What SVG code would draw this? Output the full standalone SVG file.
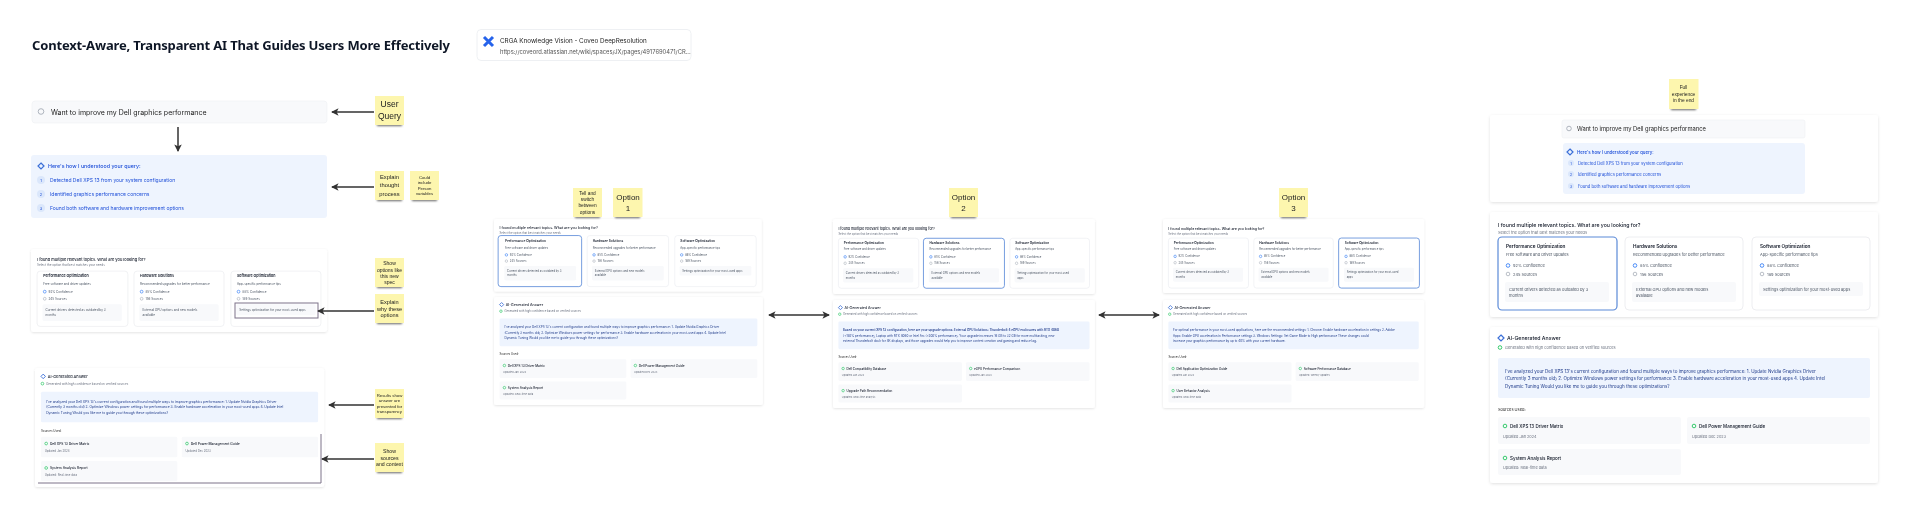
<svg xmlns="http://www.w3.org/2000/svg" width="1920" height="528" viewBox="0 0 1920 528">
<style>
text{font-family:Inter,"Noto Sans","Liberation Sans",sans-serif;fill:#1f2937}
.title{font-family:"Noto Sans","Liberation Sans",sans-serif;font-weight:700;font-size:13px;fill:#111827}
.panel{fill:#fff;filter:url(#ps)}
.card{fill:#fff;stroke:#e8eaee;stroke-width:.8}
.sel{fill:#fff;stroke:#5b8ad8;stroke-width:1.2}
.box{fill:#f8f9fb}
.blue{fill:#eef4fe}
.h{font-size:5.2px;font-weight:500;fill:#111827}
.s{font-size:4px;fill:#6b7280}
.t{font-size:4.7px;font-weight:600;fill:#111827}
.d{font-size:4px;fill:#4b5563}
.m{font-size:4px;fill:#4b5563}
.n{font-size:4px;fill:#4b5563}
.b{font-size:4.5px;fill:#1e3a8a}
.st{font-size:4.5px;font-weight:500;fill:#111827}
.ss{font-size:3.8px;fill:#6b7280}
.q{fill:#1d4ed8}
.conf{fill:none;stroke:#3b82f6;stroke-width:.9}
.src{fill:none;stroke:#9ca3af;stroke-width:.7}
.chk{fill:none;stroke:#22c55e;stroke-width:.9}
.star{fill:none;stroke:#3b6fd8;stroke-width:1.2}
.sticky{fill:#fdf6ae}
.shade{fill:#666;filter:url(#bl)}
.sn{text-anchor:middle;fill:#222;font-family:"Liberation Sans",sans-serif}
.conn{fill:none;stroke:#333;stroke-width:1.5}
.mark{fill:none;stroke:#7d7389;stroke-width:1}
.sb{fill:#f8f9fb;stroke:#eef0f3;stroke-width:.6}
.num{fill:#dbe7fb}
</style>
<defs>
<filter id="ps" x="-5%" y="-5%" width="110%" height="112%"><feDropShadow dx="0" dy="1" stdDeviation="1.6" flood-color="#000" flood-opacity=".12"/></filter>
<filter id="bl" x="-20%" y="-200%" width="140%" height="500%"><feGaussianBlur stdDeviation="1"/></filter>
<filter id="soft" filterUnits="userSpaceOnUse" x="0" y="0" width="1920" height="528"><feGaussianBlur stdDeviation=".4"/></filter>
<marker id="ah" viewBox="0 0 8 8" refX="7" refY="4" markerWidth="5" markerHeight="5" orient="auto-start-reverse"><path d="M0 0L8 4L0 8L2 4Z" fill="#333"/></marker>
</defs>
<rect width="1920" height="528" fill="#fff"/>
<g filter="url(#soft)">
<text class="title" x="32" y="50" textLength="418">Context-Aware, Transparent AI That Guides Users More Effectively</text>

<g id="link-card">
<rect x="477" y="29.500" width="214" height="31" rx="4" fill="#fff" stroke="#eef0f3"/>
<path d="M484 37L493 46M493 37L484 46" stroke="#2563eb" stroke-width="3" fill="none"/>
<text x="500" y="43" style="font-size:6.300px;fill:#222">CRGA Knowledge Vision - Coveo DeepResolution</text>
<text x="500" y="53.500" style="font-size:5.800px;fill:#555">https://coveord.atlassian.net/wiki/spaces/JX/pages/4917690471/CR...</text>
</g>

<g id="search-query">
<rect x="32" y="101" width="295" height="22" rx="3" class="sb"/>
<circle cx="41" cy="111.500" r="2.800" fill="none" stroke="#9ca3af" stroke-width=".8"/>
<text x="51" y="114.500" style="font-size:7px;fill:#222">Want to improve my Dell graphics performance</text>
</g>

<g id="thought-process">
<rect x="31" y="155" width="296" height="63" rx="3" class="blue"/>
<path d="M41 163L44 166L41 169L38 166Z" class="star"/>
<text x="48" y="168" class="q" style="font-size:5.300px;font-weight:500">Here's how I understood your query:</text>
<circle cx="41" cy="180" r="4" class="num"/><circle cx="41" cy="194" r="4" class="num"/><circle cx="41" cy="208" r="4" class="num"/>
<text x="41" y="182" class="q" text-anchor="middle" style="font-size:4px">1</text><text x="41" y="196" class="q" text-anchor="middle" style="font-size:4px">2</text><text x="41" y="210" class="q" text-anchor="middle" style="font-size:4px">3</text>
<text x="50" y="182" class="q" style="font-size:5px">Detected Dell XPS 13 from your system configuration</text>
<text x="50" y="196" class="q" style="font-size:5px">Identified graphics performance concerns</text>
<text x="50" y="210" class="q" style="font-size:5px">Found both software and hardware improvement options</text>
</g>

<g id="options-base" transform="translate(31 249) scale(.763 .79)">
<rect width="388" height="105" rx="3" class="panel"/>
<text x="8" y="15" class="h">I found multiple relevant topics. What are you looking for?</text><text x="8" y="22" class="s">Select the option that best matches your needs</text>
<rect x="8" y="28" width="119" height="70" rx="4" class="card"/><rect x="135" y="28" width="118" height="70" rx="4" class="card"/><rect x="262" y="28" width="118" height="70" rx="4" class="card"/>
<text x="16" y="36" class="t">Performance Optimization</text><text x="16" y="45" class="d">Free software and driver updates</text><circle cx="18" cy="54" r="1.800" class="conf"/><text x="23" y="55.500" class="m">92% Confidence</text><circle cx="18" cy="63" r="1.800" class="src"/><text x="23" y="64.500" class="m">245 Sources</text><rect x="15" y="70" width="104" height="21" rx="2" class="box"/><text x="19" y="78.500" class="n">Current drivers detected as outdated by 3</text><text x="19" y="85" class="n">months</text>
<text x="143" y="36" class="t">Hardware Solutions</text><text x="143" y="45" class="d">Recommended upgrades for better performance</text><circle cx="145" cy="54" r="1.800" class="conf"/><text x="150" y="55.500" class="m">85% Confidence</text><circle cx="145" cy="63" r="1.800" class="src"/><text x="150" y="64.500" class="m">156 Sources</text><rect x="142" y="70" width="104" height="21" rx="2" class="box"/><text x="146" y="78.500" class="n">External GPU options and new models</text><text x="146" y="85" class="n">available</text>
<text x="270" y="36" class="t">Software Optimization</text><text x="270" y="45" class="d">App-specific performance tips</text><circle cx="272" cy="54" r="1.800" class="conf"/><text x="277" y="55.500" class="m">88% Confidence</text><circle cx="272" cy="63" r="1.800" class="src"/><text x="277" y="64.500" class="m">189 Sources</text><rect x="269" y="70" width="104" height="14" rx="2" class="box"/><text x="273" y="78.500" class="n">Settings optimization for your most-used apps</text>
</g>
<rect x="235" y="303" width="83" height="15" class="mark"/>

<g id="answer-base" transform="translate(35 368) scale(.745 .763)">
<rect width="388" height="156" rx="3" class="panel"/>
<path d="M11 8L14 11L11 14L8 11Z" class="star"/><text x="17" y="12.500" class="h">AI-Generated Answer</text><circle cx="10" cy="20.500" r="1.800" class="chk"/><text x="15" y="22" class="s">Generated with high confidence based on verified sources</text>
<rect x="8" y="31" width="372" height="40" rx="2" class="blue"/>
<text x="15" y="45.500" class="b">I've analyzed your Dell XPS 13's current configuration and found multiple ways to improve graphics performance: 1. Update Nvidia Graphics Driver</text>
<text x="15" y="53" class="b">(Currently 3 months old) 2. Optimize Windows power settings for performance 3. Enable hardware acceleration in your most-used apps 4. Update Intel</text>
<text x="15" y="60.500" class="b">Dynamic Tuning Would you like me to guide you through these optimizations?</text>
<text x="8" y="84" class="s" style="fill:#222">Sources Used:</text>
<rect x="8" y="90" width="183" height="27" rx="2" class="box"/><rect x="197" y="90" width="183" height="27" rx="2" class="box"/><rect x="8" y="122" width="183" height="26" rx="2" class="box"/>
<circle cx="15" cy="99" r="1.800" class="chk"/><text x="20" y="100.500" class="st">Dell XPS 13 Driver Matrix</text><text x="13" y="110.500" class="ss">Updated Jan 2024</text>
<circle cx="204" cy="99" r="1.800" class="chk"/><text x="209" y="100.500" class="st">Dell Power Management Guide</text><text x="202" y="110.500" class="ss">Updated Dec 2023</text>
<circle cx="15" cy="131" r="1.800" class="chk"/><text x="20" y="132.500" class="st">System Analysis Report</text><text x="13" y="141.500" class="ss">Updated: Real-time data</text>
</g>
<path d="M321 434V483H38" class="mark"/>

<g id="options-1" transform="translate(494 219) scale(.69 .69)">
<rect width="388" height="105" rx="3" class="panel"/>
<text x="8" y="15" class="h">I found multiple relevant topics. What are you looking for?</text><text x="8" y="22" class="s">Select the option that best matches your needs</text>
<rect x="6" y="24" width="121" height="74" rx="4" class="sel"/><rect x="135" y="24" width="118" height="74" rx="4" class="card"/><rect x="262" y="24" width="118" height="74" rx="4" class="card"/>
<text x="16" y="34" class="t">Performance Optimization</text><text x="16" y="43" class="d">Free software and driver updates</text><circle cx="18" cy="52" r="1.800" class="conf"/><text x="23" y="53.500" class="m">92% Confidence</text><circle cx="18" cy="61" r="1.800" class="src"/><text x="23" y="62.500" class="m">245 Sources</text><rect x="15" y="68" width="104" height="21" rx="2" class="box"/><text x="19" y="76.500" class="n">Current drivers detected as outdated by 3</text><text x="19" y="83" class="n">months</text>
<text x="143" y="34" class="t">Hardware Solutions</text><text x="143" y="43" class="d">Recommended upgrades for better performance</text><circle cx="145" cy="52" r="1.800" class="conf"/><text x="150" y="53.500" class="m">85% Confidence</text><circle cx="145" cy="61" r="1.800" class="src"/><text x="150" y="62.500" class="m">156 Sources</text><rect x="142" y="68" width="104" height="21" rx="2" class="box"/><text x="146" y="76.500" class="n">External GPU options and new models</text><text x="146" y="83" class="n">available</text>
<text x="270" y="34" class="t">Software Optimization</text><text x="270" y="43" class="d">App-specific performance tips</text><circle cx="272" cy="52" r="1.800" class="conf"/><text x="277" y="53.500" class="m">88% Confidence</text><circle cx="272" cy="61" r="1.800" class="src"/><text x="277" y="62.500" class="m">189 Sources</text><rect x="269" y="68" width="104" height="14" rx="2" class="box"/><text x="273" y="76.500" class="n">Settings optimization for your most-used apps</text>
</g>

<g id="answer-1" transform="translate(494 297) scale(.693 .692)">
<rect width="388" height="156" rx="3" class="panel"/>
<path d="M11 8L14 11L11 14L8 11Z" class="star"/><text x="17" y="12.500" class="h">AI-Generated Answer</text><circle cx="10" cy="20.500" r="1.800" class="chk"/><text x="15" y="22" class="s">Generated with high confidence based on verified sources</text>
<rect x="8" y="31" width="372" height="40" rx="2" class="blue"/>
<text x="15" y="45.500" class="b">I've analyzed your Dell XPS 13's current configuration and found multiple ways to improve graphics performance: 1. Update Nvidia Graphics Driver</text>
<text x="15" y="53" class="b">(Currently 3 months old) 2. Optimize Windows power settings for performance 3. Enable hardware acceleration in your most-used apps 4. Update Intel</text>
<text x="15" y="60.500" class="b">Dynamic Tuning Would you like me to guide you through these optimizations?</text>
<text x="8" y="84" class="s" style="fill:#222">Sources Used:</text>
<rect x="8" y="90" width="183" height="27" rx="2" class="box"/><rect x="197" y="90" width="183" height="27" rx="2" class="box"/><rect x="8" y="122" width="183" height="26" rx="2" class="box"/>
<circle cx="15" cy="99" r="1.800" class="chk"/><text x="20" y="100.500" class="st">Dell XPS 13 Driver Matrix</text><text x="13" y="110.500" class="ss">Updated Jan 2024</text>
<circle cx="204" cy="99" r="1.800" class="chk"/><text x="209" y="100.500" class="st">Dell Power Management Guide</text><text x="202" y="110.500" class="ss">Updated Dec 2023</text>
<circle cx="15" cy="131" r="1.800" class="chk"/><text x="20" y="132.500" class="st">System Analysis Report</text><text x="13" y="141.500" class="ss">Updated: Real-time data</text>
</g>

<g id="options-2" transform="translate(833 219) scale(.675 .714)">
<rect width="388" height="105" rx="3" class="panel"/>
<text x="8" y="15" class="h">I found multiple relevant topics. What are you looking for?</text><text x="8" y="22" class="s">Select the option that best matches your needs</text>
<rect x="8" y="27" width="119" height="70" rx="4" class="card"/><rect x="134" y="27" width="120" height="70" rx="4" class="sel"/><rect x="262" y="27" width="118" height="70" rx="4" class="card"/>
<text x="16" y="35" class="t">Performance Optimization</text><text x="16" y="44" class="d">Free software and driver updates</text><circle cx="18" cy="53" r="1.800" class="conf"/><text x="23" y="54.500" class="m">92% Confidence</text><circle cx="18" cy="62" r="1.800" class="src"/><text x="23" y="63.500" class="m">245 Sources</text><rect x="15" y="69" width="104" height="20" rx="2" class="box"/><text x="19" y="76.500" class="n">Current drivers detected as outdated by 3</text><text x="19" y="84" class="n">months</text>
<text x="143" y="35" class="t">Hardware Solutions</text><text x="143" y="44" class="d">Recommended upgrades for better performance</text><circle cx="145" cy="53" r="1.800" class="conf"/><text x="150" y="54.500" class="m">85% Confidence</text><circle cx="145" cy="62" r="1.800" class="src"/><text x="150" y="63.500" class="m">156 Sources</text><rect x="142" y="69" width="104" height="20" rx="2" class="box"/><text x="146" y="76.500" class="n">External GPU options and new models</text><text x="146" y="84" class="n">available</text>
<text x="270" y="35" class="t">Software Optimization</text><text x="270" y="44" class="d">App-specific performance tips</text><circle cx="272" cy="53" r="1.800" class="conf"/><text x="277" y="54.500" class="m">88% Confidence</text><circle cx="272" cy="62" r="1.800" class="src"/><text x="277" y="63.500" class="m">189 Sources</text><rect x="269" y="69" width="104" height="20" rx="2" class="box"/><text x="273" y="76.500" class="n">Settings optimization for your most-used</text><text x="273" y="84" class="n">apps</text>
</g>

<g id="answer-2" transform="translate(833 300) scale(.675 .692)">
<rect width="388" height="156" rx="3" class="panel"/>
<path d="M11 8L14 11L11 14L8 11Z" class="star"/><text x="17" y="12.500" class="h">AI-Generated Answer</text><circle cx="10" cy="20.500" r="1.800" class="chk"/><text x="15" y="22" class="s">Generated with high confidence based on verified sources</text>
<rect x="8" y="31" width="372" height="40" rx="2" class="blue"/>
<text x="15" y="45.500" class="b" style="font-weight:600">Based on your current XPS 13 configuration, here are your upgrade options: External GPU Solutions: Thunderbolt 4 eGPU enclosures with RTX 4060</text>
<text x="15" y="53" class="b">(+150% performance), Laptop with RTX 4060 or Intel Arc (+200% performance). Your upgrade increases 16 GB to 32 GB for more multitasking, new</text>
<text x="15" y="60.500" class="b">external Thunderbolt dock for 4K displays, and those upgrades would help you to improve content creation and gaming and reduce lag.</text>
<text x="8" y="84" class="s" style="fill:#222">Sources Used:</text>
<rect x="8" y="90" width="183" height="27" rx="2" class="box"/><rect x="197" y="90" width="183" height="27" rx="2" class="box"/><rect x="8" y="122" width="183" height="26" rx="2" class="box"/>
<circle cx="15" cy="99" r="1.800" class="chk"/><text x="20" y="100.500" class="st">Dell Compatibility Database</text><text x="13" y="110.500" class="ss">Updated Jan 2024</text>
<circle cx="204" cy="99" r="1.800" class="chk"/><text x="209" y="100.500" class="st">eGPU Performance Comparison</text><text x="202" y="110.500" class="ss">Updated Jan 2024</text>
<circle cx="15" cy="131" r="1.800" class="chk"/><text x="20" y="132.500" class="st">Upgrade Path Recommendation</text><text x="13" y="141.500" class="ss">Updated: Real-time analysis</text>
</g>

<g id="options-3" transform="translate(1163 219) scale(.673 .705)">
<rect width="388" height="105" rx="3" class="panel"/>
<text x="8" y="15" class="h">I found multiple relevant topics. What are you looking for?</text><text x="8" y="22" class="s">Select the option that best matches your needs</text>
<rect x="8" y="27" width="119" height="71" rx="4" class="card"/><rect x="135" y="27" width="118" height="71" rx="4" class="card"/><rect x="261" y="27" width="120" height="71" rx="4" class="sel"/>
<text x="16" y="35" class="t">Performance Optimization</text><text x="16" y="44" class="d">Free software and driver updates</text><circle cx="18" cy="53" r="1.800" class="conf"/><text x="23" y="54.500" class="m">92% Confidence</text><circle cx="18" cy="62" r="1.800" class="src"/><text x="23" y="63.500" class="m">245 Sources</text><rect x="15" y="69" width="104" height="20" rx="2" class="box"/><text x="19" y="76.500" class="n">Current drivers detected as outdated by 3</text><text x="19" y="84" class="n">months</text>
<text x="143" y="35" class="t">Hardware Solutions</text><text x="143" y="44" class="d">Recommended upgrades for better performance</text><circle cx="145" cy="53" r="1.800" class="conf"/><text x="150" y="54.500" class="m">85% Confidence</text><circle cx="145" cy="62" r="1.800" class="src"/><text x="150" y="63.500" class="m">156 Sources</text><rect x="142" y="69" width="104" height="20" rx="2" class="box"/><text x="146" y="76.500" class="n">External GPU options and new models</text><text x="146" y="84" class="n">available</text>
<text x="270" y="35" class="t">Software Optimization</text><text x="270" y="44" class="d">App-specific performance tips</text><circle cx="272" cy="53" r="1.800" class="conf"/><text x="277" y="54.500" class="m">88% Confidence</text><circle cx="272" cy="62" r="1.800" class="src"/><text x="277" y="63.500" class="m">189 Sources</text><rect x="269" y="69" width="104" height="20" rx="2" class="box"/><text x="273" y="76.500" class="n">Settings optimization for your most-used</text><text x="273" y="84" class="n">apps</text>
</g>

<g id="answer-3" transform="translate(1163 300) scale(.673 .692)">
<rect width="388" height="156" rx="3" class="panel"/>
<path d="M11 8L14 11L11 14L8 11Z" class="star"/><text x="17" y="12.500" class="h">AI-Generated Answer</text><circle cx="10" cy="20.500" r="1.800" class="chk"/><text x="15" y="22" class="s">Generated with high confidence based on verified sources</text>
<rect x="8" y="31" width="372" height="40" rx="2" class="blue"/>
<text x="15" y="45.500" class="b">For optimal performance in your most-used applications, here are the recommended settings: 1. Chrome: Enable hardware acceleration in settings 2. Adobe</text>
<text x="15" y="53" class="b">Apps: Enable GPU acceleration in Performance settings 3. Windows Settings: Set Game Mode to High performance These changes could</text>
<text x="15" y="60.500" class="b">increase your graphics performance by up to 40% with your current hardware.</text>
<text x="8" y="84" class="s" style="fill:#222">Sources Used:</text>
<rect x="8" y="90" width="183" height="27" rx="2" class="box"/><rect x="197" y="90" width="183" height="27" rx="2" class="box"/><rect x="8" y="122" width="183" height="26" rx="2" class="box"/>
<circle cx="15" cy="99" r="1.800" class="chk"/><text x="20" y="100.500" class="st">Dell Application Optimization Guide</text><text x="13" y="110.500" class="ss">Updated Jan 2024</text>
<circle cx="204" cy="99" r="1.800" class="chk"/><text x="209" y="100.500" class="st">Software Performance Database</text><text x="202" y="110.500" class="ss">Updated: Weekly updates</text>
<circle cx="15" cy="131" r="1.800" class="chk"/><text x="20" y="132.500" class="st">User Behavior Analysis</text><text x="13" y="141.500" class="ss">Updated: Real-time data</text>
</g>

<g id="full-query">
<rect x="1490" y="115" width="388" height="87" rx="3" class="panel"/>
<rect x="1562" y="120" width="243" height="18" rx="2" class="sb"/>
<circle cx="1569" cy="128.500" r="2.300" fill="none" stroke="#9ca3af" stroke-width=".8"/>
<text x="1577" y="131" style="font-size:5.800px;fill:#222">Want to improve my Dell graphics performance</text>
<rect x="1563" y="143" width="242" height="51" rx="3" class="blue"/>
<path d="M1570 149L1573 152L1570 155L1567 152Z" class="star"/>
<text x="1577" y="153.500" class="q" style="font-size:4.400px;font-weight:500">Here's how I understood your query:</text>
<circle cx="1571" cy="163" r="3" class="num"/><circle cx="1571" cy="174" r="3" class="num"/><circle cx="1571" cy="186" r="3" class="num"/>
<text x="1571" y="164.500" class="q" text-anchor="middle" style="font-size:3.500px">1</text><text x="1571" y="175.500" class="q" text-anchor="middle" style="font-size:3.500px">2</text><text x="1571" y="187.500" class="q" text-anchor="middle" style="font-size:3.500px">3</text>
<text x="1578" y="164.500" class="q" style="font-size:4.200px">Detected Dell XPS 13 from your system configuration</text>
<text x="1578" y="175.500" class="q" style="font-size:4.200px">Identified graphics performance concerns</text>
<text x="1578" y="187.500" class="q" style="font-size:4.200px">Found both software and hardware improvement options</text>
</g>

<g id="full-options" transform="translate(1490 212)">
<rect width="388" height="105" rx="3" class="panel"/>
<text x="8" y="15" class="h">I found multiple relevant topics. What are you looking for?</text><text x="8" y="22" class="s">Select the option that best matches your needs</text>
<rect x="8" y="25" width="119" height="73" rx="4" class="sel"/><rect x="135" y="25" width="118" height="73" rx="4" class="card"/><rect x="262" y="25" width="118" height="73" rx="4" class="card"/>
<text x="16" y="36" class="t">Performance Optimization</text><text x="16" y="44" class="d">Free software and driver updates</text><circle cx="18" cy="53.500" r="1.800" class="conf"/><text x="23" y="55" class="m">92% Confidence</text><circle cx="18" cy="62" r="1.800" class="src"/><text x="23" y="64" class="m">245 Sources</text><rect x="15" y="70" width="104" height="20" rx="2" class="box"/><text x="19" y="78.500" class="n">Current drivers detected as outdated by 3</text><text x="19" y="85" class="n">months</text>
<text x="143" y="36" class="t">Hardware Solutions</text><text x="143" y="44" class="d">Recommended upgrades for better performance</text><circle cx="145" cy="53.500" r="1.800" class="conf"/><text x="150" y="55" class="m">85% Confidence</text><circle cx="145" cy="62" r="1.800" class="src"/><text x="150" y="64" class="m">156 Sources</text><rect x="142" y="70" width="104" height="20" rx="2" class="box"/><text x="146" y="78.500" class="n">External GPU options and new models</text><text x="146" y="85" class="n">available</text>
<text x="270" y="36" class="t">Software Optimization</text><text x="270" y="44" class="d">App-specific performance tips</text><circle cx="272" cy="53.500" r="1.800" class="conf"/><text x="277" y="55" class="m">88% Confidence</text><circle cx="272" cy="62" r="1.800" class="src"/><text x="277" y="64" class="m">189 Sources</text><rect x="269" y="70" width="104" height="14" rx="2" class="box"/><text x="273" y="78.500" class="n">Settings optimization for your most-used apps</text>
</g>

<g id="full-answer" transform="translate(1490 327)">
<rect width="388" height="156" rx="3" class="panel"/>
<path d="M11 8L14 11L11 14L8 11Z" class="star"/><text x="17" y="12.500" class="h">AI-Generated Answer</text><circle cx="10" cy="20.500" r="1.800" class="chk"/><text x="15" y="22" class="s">Generated with high confidence based on verified sources</text>
<rect x="8" y="31" width="372" height="40" rx="2" class="blue"/>
<text x="15" y="45.500" class="b">I've analyzed your Dell XPS 13's current configuration and found multiple ways to improve graphics performance: 1. Update Nvidia Graphics Driver</text>
<text x="15" y="53" class="b">(Currently 3 months old) 2. Optimize Windows power settings for performance 3. Enable hardware acceleration in your most-used apps 4. Update Intel</text>
<text x="15" y="60.500" class="b">Dynamic Tuning Would you like me to guide you through these optimizations?</text>
<text x="8" y="84" class="s" style="fill:#222">Sources Used:</text>
<rect x="8" y="90" width="183" height="27" rx="2" class="box"/><rect x="197" y="90" width="183" height="27" rx="2" class="box"/><rect x="8" y="122" width="183" height="26" rx="2" class="box"/>
<circle cx="15" cy="99" r="1.800" class="chk"/><text x="20" y="100.500" class="st">Dell XPS 13 Driver Matrix</text><text x="13" y="110.500" class="ss">Updated Jan 2024</text>
<circle cx="204" cy="99" r="1.800" class="chk"/><text x="209" y="100.500" class="st">Dell Power Management Guide</text><text x="202" y="110.500" class="ss">Updated Dec 2023</text>
<circle cx="15" cy="131" r="1.800" class="chk"/><text x="20" y="132.500" class="st">System Analysis Report</text><text x="13" y="141.500" class="ss">Updated: Real-time data</text>
</g>

<g id="connectors">
<path d="M374 112H332" class="conn" marker-end="url(#ah)"/>
<path d="M178 127V151" class="conn" marker-end="url(#ah)"/>
<path d="M374 187H332" class="conn" marker-end="url(#ah)"/>
<path d="M374 311H318" class="conn" marker-end="url(#ah)"/>
<path d="M374 405H329" class="conn" marker-end="url(#ah)"/>
<path d="M374 459H322" class="conn" marker-end="url(#ah)"/>
<path d="M769 315H829" class="conn" marker-start="url(#ah)" marker-end="url(#ah)"/>
<path d="M1099 315H1159" class="conn" marker-start="url(#ah)" marker-end="url(#ah)"/>
</g>

<g id="note-user-query"><rect x="377" y="123" width="25" height="3" class="shade"/><rect x="375" y="96" width="29" height="29" class="sticky"/><text class="sn" style="font-size:8.500px"><tspan x="389.500" y="107">User</tspan><tspan x="389.500" y="119">Query</tspan></text></g>
<g id="note-explain"><rect x="377" y="198" width="25" height="3" class="shade"/><rect x="375" y="171" width="29" height="29" class="sticky"/><text class="sn" style="font-size:5.800px"><tspan x="389.500" y="179">Explain</tspan><tspan x="389.500" y="187">thought</tspan><tspan x="389.500" y="195.500">process</tspan></text></g>
<g id="note-person"><rect x="412" y="198" width="25" height="3" class="shade"/><rect x="410" y="171" width="29" height="29" class="sticky"/><text class="sn" style="font-size:4.300px"><tspan x="424.500" y="178.500">Could</tspan><tspan x="424.500" y="184">include</tspan><tspan x="424.500" y="189.500">Person</tspan><tspan x="424.500" y="195">variables</tspan></text></g>
<g id="note-show-options"><rect x="377" y="285" width="25" height="3" class="shade"/><rect x="375" y="258" width="29" height="29" class="sticky"/><text class="sn" style="font-size:5px"><tspan x="389.500" y="265">Show</tspan><tspan x="389.500" y="271.500">options like</tspan><tspan x="389.500" y="278">this new</tspan><tspan x="389.500" y="283.500">spec</tspan></text></g>
<g id="note-why"><rect x="377" y="321" width="25" height="3" class="shade"/><rect x="375" y="294" width="29" height="29" class="sticky"/><text class="sn" style="font-size:5.600px"><tspan x="389.500" y="304">Explain</tspan><tspan x="389.500" y="310.500">why these</tspan><tspan x="389.500" y="317">options</tspan></text></g>
<g id="note-results"><rect x="377" y="416" width="25" height="3" class="shade"/><rect x="375" y="389" width="29" height="29" class="sticky"/><text class="sn" style="font-size:4.300px"><tspan x="389.500" y="397">Results show</tspan><tspan x="389.500" y="402">answer are</tspan><tspan x="389.500" y="407.500">presented for</tspan><tspan x="389.500" y="412.500">transparency</tspan></text></g>
<g id="note-sources"><rect x="377" y="470" width="25" height="3" class="shade"/><rect x="375" y="443" width="29" height="29" class="sticky"/><text class="sn" style="font-size:5.200px"><tspan x="389.500" y="453">Show</tspan><tspan x="389.500" y="459.500">sources</tspan><tspan x="389.500" y="465.500">and context</tspan></text></g>
<g id="note-switch"><rect x="575" y="215" width="25" height="3" class="shade"/><rect x="573" y="188" width="29" height="29" class="sticky"/><text class="sn" style="font-size:4.800px"><tspan x="587.500" y="195">Tell and</tspan><tspan x="587.500" y="201">switch</tspan><tspan x="587.500" y="207">between</tspan><tspan x="587.500" y="213.500">options</tspan></text></g>
<g id="note-option-1"><rect x="615" y="215" width="25" height="3" class="shade"/><rect x="613" y="188" width="29.500" height="29" class="sticky"/><text class="sn" style="font-size:8px"><tspan x="628" y="200">Option</tspan><tspan x="628" y="210.500">1</tspan></text></g>
<g id="note-option-2"><rect x="951" y="215" width="25" height="3" class="shade"/><rect x="949" y="188" width="29" height="29" class="sticky"/><text class="sn" style="font-size:8px"><tspan x="963.500" y="200">Option</tspan><tspan x="963.500" y="210.500">2</tspan></text></g>
<g id="note-option-3"><rect x="1281" y="215" width="25" height="3" class="shade"/><rect x="1279" y="188" width="29" height="29" class="sticky"/><text class="sn" style="font-size:8px"><tspan x="1293.500" y="200">Option</tspan><tspan x="1293.500" y="210.500">3</tspan></text></g>
<g id="note-full"><rect x="1671" y="107" width="25" height="3" class="shade"/><rect x="1669" y="79" width="29.500" height="30" class="sticky"/><text class="sn" style="font-size:4.800px"><tspan x="1683.500" y="89">Full</tspan><tspan x="1683.500" y="95.500">experience</tspan><tspan x="1683.500" y="101.500">in the end</tspan></text></g>
</g>
</svg>
